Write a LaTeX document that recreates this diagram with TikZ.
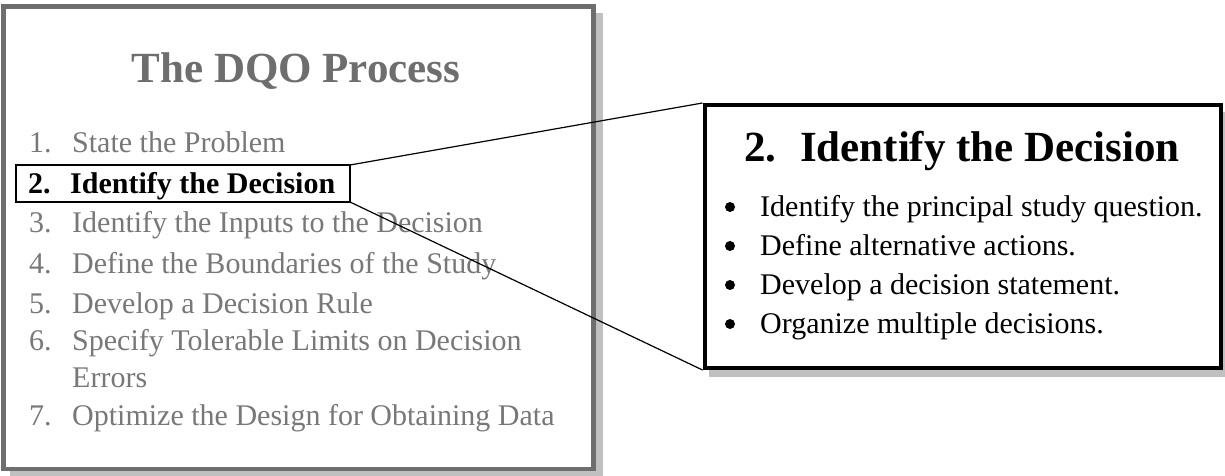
\documentclass[tikz,border=0pt]{standalone}
\usepackage{fontspec}
\setmainfont{Liberation Serif}
\definecolor{framegray}{HTML}{6E6E6E}
\definecolor{titlegray}{HTML}{6E6E6E}
\definecolor{itemgray}{HTML}{787878}
\definecolor{shadegray}{HTML}{C0C0C0}
\begin{document}
\begin{tikzpicture}[x=1pt,y=-1pt,
  shadowfill/.style={fill=shadegray},
  bigtitle/.style={inner sep=0pt, font=\fontsize{43}{50}\selectfont\bfseries},
  listtxt/.style={inner sep=0pt, anchor=base west, text=itemgray, font=\fontsize{30}{36}\selectfont},
  curtxt/.style={inner sep=0pt, anchor=base west, text=black, font=\fontsize{30}{36}\selectfont\bfseries},
  bullettxt/.style={inner sep=0pt, anchor=base west, text=black, font=\fontsize{30}{36}\selectfont},
  bulletdot/.style={circle, fill=black, inner sep=0pt, minimum size=10pt},
  link/.style={draw=black, line width=1.2pt}]
\useasboundingbox (0,0) rectangle (1225,476);
% shadows
\fill[shadowfill] (10,13) rectangle (603,476);
\fill[shadowfill] (709,112) rectangle (1232,377);
% left frame
\node[draw=framegray, fill=white, line width=4.5pt, minimum width=590pt, minimum height=462.5pt, inner sep=0pt] (lbox) at (298.5,237.75) {};
% right frame
\node[draw=black, fill=white, line width=4pt, minimum width=516.5pt, minimum height=263pt, inner sep=0pt] (rbox) at (962.75,236.5) {};
% titles
\node[bigtitle, text=titlegray, anchor=base] (ltitle) at (296,83) {The DQO Process};
\node[bigtitle, text=black, anchor=base] (rtitle) at (962,161) {2.\hspace{0.55em}Identify the Decision};
% list
\node[listtxt] (n1) at (29,152) {1.};
\node[listtxt] (t1) at (72,152) {State the Problem};
\node[draw=black, line width=1.2pt, minimum width=334pt, minimum height=37pt, inner sep=0pt, outer sep=0pt, anchor=north west] (box2) at (16,165) {};
\node[curtxt] (n2) at (28,193) {2.};
\node[curtxt] (t2) at (70,193) {Identify the Decision};
\node[listtxt] (n3) at (29,232) {3.};
\node[listtxt] (t3) at (72,232) {Identify the Inputs to the Decision};
\node[listtxt] (n4) at (29,273) {4.};
\node[listtxt] (t4) at (72,273) {Define the Boundaries of the Study};
\node[listtxt] (n5) at (29,313) {5.};
\node[listtxt] (t5) at (72,313) {Develop a Decision Rule};
\node[listtxt] (n6) at (29,350) {6.};
\node[listtxt] (t6) at (72,350) {Specify Tolerable Limits on Decision};
\node[listtxt] (t6b) at (72,387) {Errors};
\node[listtxt] (n7) at (29,425) {7.};
\node[listtxt] (t7) at (72,425) {Optimize the Design for Obtaining Data};
% bullets
\node[bulletdot] (b1) at (730,207) {};
\node[bullettxt] (s1) at (760,216) {Identify the principal study question.};
\node[bulletdot] (b2) at (730,246) {};
\node[bullettxt] (s2) at (760,255) {Define alternative actions.};
\node[bulletdot] (b3) at (730,285) {};
\node[bullettxt] (s3) at (760,294) {Develop a decision statement.};
\node[bulletdot] (b4) at (730,324) {};
\node[bullettxt] (s4) at (760,333) {Organize multiple decisions.};
% connectors
\draw[link] (box2.north east) -- (rbox.north west);
\draw[link] (box2.south east) -- (rbox.south west);
\end{tikzpicture}
\end{document}
